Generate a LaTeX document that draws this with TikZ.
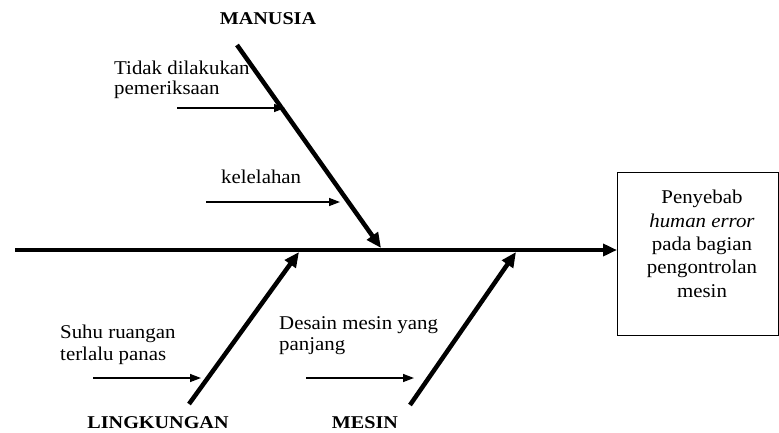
\documentclass[tikz,border=0pt]{standalone}
\usepackage{fontspec}
\setmainfont{Liberation Serif}
\usetikzlibrary{arrows.meta}
\tikzset{
  txt/.style={font=\fontsize{19.5}{20}\selectfont, inner sep=0pt, xscale=1.07, transform shape},
  boxtxt/.style={font=\fontsize{19.5}{23.3}\selectfont, inner sep=0pt, xscale=1.07, transform shape, align=center},
  catlabel/.style={font=\bfseries\fontsize{18}{20}\selectfont, inner sep=0pt, xscale=1.12, transform shape},
  bone/.style={line width=4.5pt, -{Triangle[length=15pt,width=13pt]}},
  spine/.style={line width=4pt, -{Triangle[length=14pt,width=12pt]}},
  cause/.style={line width=1.4pt, -{Triangle[length=11pt,width=8pt]}},
  effect/.style={draw, line width=0.9pt, inner sep=0pt, minimum width=161pt, minimum height=163pt, anchor=north west}
}
\begin{document}
\begin{tikzpicture}[x=1pt,y=-1pt]
\useasboundingbox (0,0) rectangle (779,432);
% effect box
\node[effect] (box) at (617,172) {};
\node[boxtxt, anchor=base] (effecttxt) at (702,297)
  {Penyebab\\ \textit{human error}\\ pada bagian\\ pengontrolan\\ mesin};
% spine
\coordinate (tail) at (15,250);
\draw[spine] (tail) -- (tail -| box.west);
% category labels
\node[catlabel, anchor=base] (manusia) at (268,24) {MANUSIA};
\node[catlabel, anchor=base] (lingkungan) at (158,428) {LINGKUNGAN};
\node[catlabel, anchor=base] (mesin) at (365,428) {MESIN};
% bones
\coordinate (m0) at (237,45);  \coordinate (m1) at (381,248);
\coordinate (l0) at (189,404); \coordinate (l1) at (299,252);
\coordinate (s0) at (410,405); \coordinate (s1) at (516,252);
\draw[bone] (m0) -- (m1);
\draw[bone] (l0) -- (l1);
\draw[bone] (s0) -- (s1);
% causes
\node[txt, anchor=base west, align=left] (c1) at (114,94) {Tidak dilakukan\\pemeriksaan};
\coordinate (c1a) at (177,108); \coordinate (c1b) at (285,108);
\draw[cause] (c1a) -- (c1b);
\node[txt, anchor=base west] (c2) at (221,183) {kelelahan};
\coordinate (c2a) at (206,202); \coordinate (c2b) at (340,202);
\draw[cause] (c2a) -- (c2b);
\node[txt, anchor=base west, align=left] (c3) at (60,360) {Suhu ruangan\\[2pt]terlalu panas};
\coordinate (c3a) at (93,378); \coordinate (c3b) at (201,378);
\draw[cause] (c3a) -- (c3b);
\node[txt, anchor=base west, align=left] (c4) at (279,350) {Desain mesin yang\\[1pt]panjang};
\coordinate (c4a) at (306,378); \coordinate (c4b) at (414,378);
\draw[cause] (c4a) -- (c4b);
\end{tikzpicture}
\end{document}
